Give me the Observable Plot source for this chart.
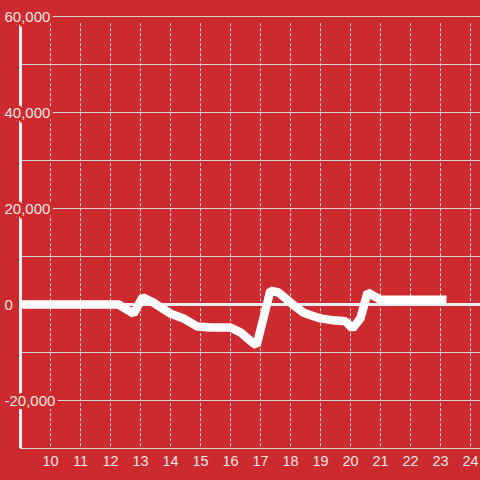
<!DOCTYPE html>
<html>
<head>
<meta charset="utf-8">
<script src="https://cdn.jsdelivr.net/npm/d3@7"></script>
<script src="https://cdn.jsdelivr.net/npm/@observablehq/plot@0.6"></script>
<style>
  html, body { margin: 0; padding: 0; background: #cc2a2e; }
</style>
</head>
<body>
<div id="chart"></div>
<script>
// Series (x = hour, y = value)
const xs = [9.0, 12.27, 12.77, 13.07, 13.43, 14.0, 14.43, 14.9, 15.33, 16.0, 16.33, 16.73, 16.87, 17.33, 17.6, 18.0, 18.43, 19.0, 19.43, 19.83, 20.07, 20.33, 20.57, 21.0, 23.2];
const ys = [0, 0, -1900, 1500, 400, -1900, -2900, -4600, -4800, -4800, -5800, -7900, -8500, 2900, 2500, 400, -1700, -2900, -3300, -3500, -5000, -2900, 2500, 1000, 1000];

// Axes
const xTicks = [10, 11, 12, 13, 14, 15, 16, 17, 18, 19, 20, 21, 22, 23, 24];
const yGrid = [-30000, -20000, -10000, 0, 10000, 20000, 30000, 40000, 50000, 60000];
const yLabels = [-20000, 0, 20000, 40000, 60000];

const data = xs.map((x, i) => ({x, y: ys[i]}));
const bg = "#cc2a2e";
const textColor = "#f3e6e6";

const chart = Plot.plot({
  width: 480,
  height: 480,
  marginLeft: 20,
  marginRight: 0,
  marginTop: 16,
  marginBottom: 32,
  style: {background: bg, fontFamily: "'Liberation Sans', Arial, sans-serif", fontSize: "14px", color: textColor},
  x: {domain: [9, 24.3333], axis: null},
  y: {domain: [-30000, 60000], axis: null},
  marks: [
    Plot.ruleY(yGrid, {y: d => d, stroke: "#d4d4d4", strokeWidth: 1}),
    Plot.ruleX(xTicks, {x: d => d, y1: 58500, y2: -30000, stroke: "#d8d8d8", strokeWidth: 1, strokeDasharray: "3,2"}),
    Plot.ruleX([9], {x: d => d, y1: 60000, y2: -30000, stroke: "#eeeeee", strokeWidth: 3}),
    Plot.ruleY([0], {y: d => d, stroke: "#eeeeee", strokeWidth: 3}),
    Plot.text(yLabels, {x: 9, y: d => d, text: d => d.toLocaleString("en-US"), textAnchor: "start", dx: -16, dy: 1, fontSize: 15, fill: textColor, stroke: bg, strokeWidth: 6}),
    Plot.text(xTicks, {x: d => d, y: -30000, dy: 13, text: d => String(d), fontSize: 14.5, fill: textColor}),
    Plot.line(data, {x: "x", y: "y", stroke: "white", strokeWidth: 8.5, strokeLinecap: "butt", strokeLinejoin: "miter"})
  ]
});
document.getElementById("chart").appendChild(chart);
</script>
</body>
</html>
